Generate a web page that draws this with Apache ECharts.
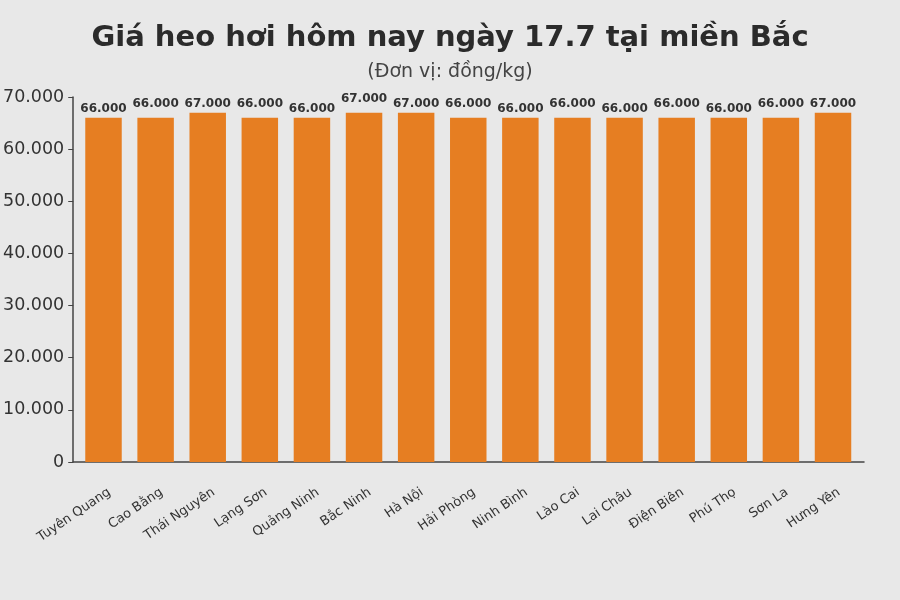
<!DOCTYPE html>
<html><head><meta charset="utf-8">
<script src="https://cdn.jsdelivr.net/npm/echarts@6/dist/echarts.min.js"></script>
<style>html,body{margin:0;padding:0;background:#e8e8e8;}#c{width:900px;height:600px;}</style>
</head><body><div id="c"></div>
<script>
const categories = ["Tuyên Quang","Cao Bằng","Thái Nguyên","Lạng Sơn","Quảng Ninh","Bắc Ninh","Hà Nội","Hải Phòng","Ninh Bình","Lào Cai","Lai Châu","Điện Biên","Phú Thọ","Sơn La","Hưng Yên"];
const prices = [66000,66000,67000,66000,66000,67000,67000,66000,66000,66000,66000,66000,66000,66000,67000];
const yTicks = [0,10000,20000,30000,40000,50000,60000,70000];

const fmt = v => String(v).replace(/\B(?=(\d{3})+(?!\d))/g, '.');
const chart = echarts.init(document.getElementById('c'), null, {renderer:'canvas'});
const font = 'DejaVu Sans';
chart.setOption({
  backgroundColor:'#e8e8e8',
  animation:false,
  title:[
    {text:'Giá heo hơi hôm nay ngày 17.7 tại miền Bắc', left:'center', top:19,
     textStyle:{fontFamily:font, fontWeight:'bold', fontSize:29, color:'#2b2b2b'}},
    {text:'(Đơn vị: đồng/kg)', left:'center', top:58,
     textStyle:{fontFamily:font, fontWeight:'normal', fontSize:19, color:'#444'}}
  ],
  grid:[
    {left:72, right:36, top:97, bottom:138},
    {left:77.45, right:40.94, top:97, bottom:138},
    {left:83.45, right:34.94, top:97, bottom:138}
  ],
  xAxis:[
    {gridIndex:0, type:'category', data:[''], axisLine:{show:true, lineStyle:{color:'#444', width:1.5}},
     axisTick:{show:false}, axisLabel:{show:false}},
    {gridIndex:1, type:'category', data:categories, axisLine:{show:false}, axisTick:{show:false},
     axisLabel:{show:false}},
    {gridIndex:2, type:'category', data:categories, axisLine:{show:false}, axisTick:{show:false},
     axisLabel:{rotate:34, interval:0, margin:29, fontFamily:font, fontSize:13, color:'#333'}}
  ],
  yAxis:[
    {gridIndex:0, type:'value', min:yTicks[0], max:yTicks[yTicks.length-1], interval:10000,
     axisLine:{show:true, lineStyle:{color:'#444', width:1.5}},
     axisTick:{show:true, length:5, lineStyle:{color:'#444'}},
     splitLine:{show:false},
     axisLabel:{margin:9, fontFamily:font, fontSize:17.5, color:'#333', formatter:v=>fmt(v)}},
    {gridIndex:1, type:'value', min:0, max:70000, show:false, splitLine:{show:false}},
    {gridIndex:2, type:'value', min:0, max:70000, show:false, splitLine:{show:false}}
  ],
  series:[{
    type:'bar', xAxisIndex:1, yAxisIndex:1, barWidth:'70%',
    itemStyle:{color:'#e67e22'},
    label:{show:true, position:'top', fontFamily:font, fontWeight:'bold', fontSize:12, color:'#333',
      formatter:p=>fmt(p.value)},
    data:prices.map((v,i)=>({value:v, label:{distance: i%2 ? 8 : 3}}))
  }]
});
</script></body></html>
